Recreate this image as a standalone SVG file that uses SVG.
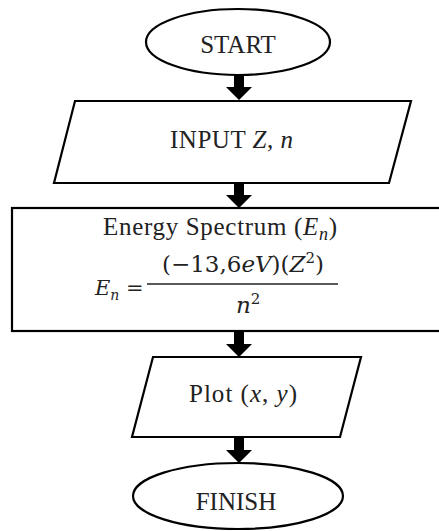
<svg xmlns="http://www.w3.org/2000/svg" width="439" height="531" viewBox="0 0 439 531">
<style>
.s{fill:#fff;stroke:#000;stroke-width:2.2}
.t{font-family:"Liberation Serif","Times New Roman",serif;font-size:25px;fill:#222}
.m{font-family:"DejaVu Serif","Liberation Serif",serif;font-size:23px;fill:#222}
.i{font-style:italic}
.a{fill:#000}
</style>
<defs>
<path id="arr" d="M-5,0 H5 V12 H13 L0,25 L-13,12 H-5 Z"/>
</defs>
<rect width="439" height="531" fill="#fff"/>
<g id="start">
<ellipse class="s" cx="238" cy="42" rx="92" ry="33"/>
<text class="t" x="238" y="53" text-anchor="middle">START</text>
</g>
<g id="input">
<polygon class="s" points="75,101 411,101 389,183 54,183"/>
<text class="t" x="170" y="148" textLength="123">INPUT <tspan class="i">Z</tspan>, <tspan class="i">n</tspan></text>
</g>
<g id="energy">
<rect class="s" x="12" y="208" width="432" height="123"/>
<text class="t" x="103" y="235" textLength="234">Energy Spectrum (<tspan class="i">E</tspan><tspan class="i" font-size="18" dy="5">n</tspan><tspan dy="-5">)</tspan></text>
<text class="m" x="95" y="295"><tspan class="i" font-size="21">E</tspan><tspan class="i" font-size="14" dy="5">n</tspan><tspan dy="-5" x="126" font-size="21">=</tspan></text>
<text class="m" x="243" y="272" text-anchor="middle">(−13,6<tspan class="i">eV</tspan>)(<tspan class="i">Z</tspan><tspan font-size="15" dy="-9">2</tspan><tspan dy="9">)</tspan></text>
<line x1="147" y1="284" x2="338" y2="284" stroke="#222" stroke-width="1.6"/>
<text class="m" x="236" y="313"><tspan class="i">n</tspan><tspan font-size="15" dy="-9">2</tspan></text>
</g>
<g id="plot">
<polygon class="s" points="153,357 361,357 340,437 132,437"/>
<text class="t" x="189" y="402" textLength="108">Plot (<tspan class="i">x</tspan>, <tspan class="i">y</tspan>)</text>
</g>
<g id="finish">
<ellipse class="s" cx="238" cy="496" rx="105" ry="33"/>
<text class="t" x="236" y="510" text-anchor="middle">FINISH</text>
</g>
<g id="connectors" class="a">
<use href="#arr" x="239" y="75"/>
<use href="#arr" x="239" y="183"/>
<use href="#arr" x="239" y="332"/>
<use href="#arr" x="239" y="438"/>
</g>
</svg>
